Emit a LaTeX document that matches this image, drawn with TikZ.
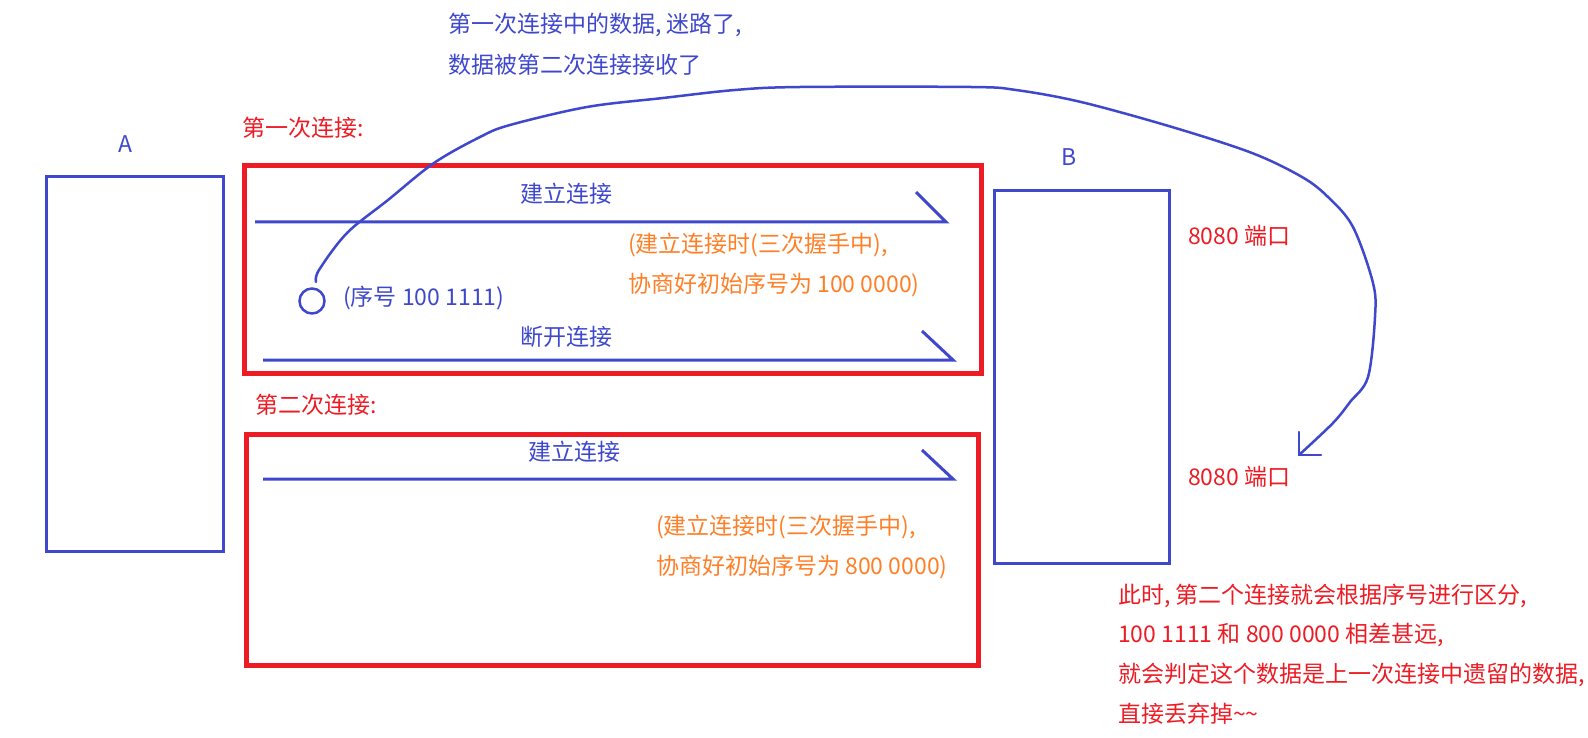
\documentclass[tikz,border=0pt]{standalone}
\usepackage{fontspec}
\newfontfamily\cjk{Noto Sans CJK SC}
\definecolor{pblue}{RGB}{63,72,204}
\definecolor{pred}{RGB}{237,28,36}
\definecolor{porange}{RGB}{255,127,39}
\begin{document}
\begin{tikzpicture}[x=1pt,y=-1pt,
  txt/.style={anchor=west, inner sep=0pt, font=\cjk\fontsize{23}{28}\selectfont},
  bluetxt/.style={txt, text=pblue},
  redtxt/.style={txt, text=pred},
  orangetxt/.style={txt, text=porange},
  hostbox/.style={draw=pblue, line width=3pt, rectangle, inner sep=0pt},
  connbox/.style={draw=pred, line width=5pt, rectangle, inner sep=0pt},
  flow/.style={draw=pblue, line width=3pt, line join=miter},
  curve/.style={draw=pblue, line width=2.5pt, line cap=round, line join=round},
]
\useasboundingbox (0,0) rectangle (1588,738);

% hosts
\node[hostbox, minimum width=176.7pt, minimum height=374.7pt] (A) at (134.9,363.9) {};
\node[hostbox, minimum width=175.5pt, minimum height=373.5pt] (B) at (1081.8,376.8) {};
\node[bluetxt, anchor=center] (Alab) at (125,144) {A};
\node[bluetxt, anchor=center] (Blab) at (1069,157) {B};

% connection boxes
\node[connbox, minimum width=736.8pt, minimum height=208pt] (c1) at (612.9,269.5) {};
\node[connbox, minimum width=731.7pt, minimum height=231.3pt] (c2) at (612.4,550.2) {};
\node[redtxt] (c1lab) at (242,128) {第一次连接:};
\node[redtxt] (c2lab) at (255,405) {第二次连接:};

% flows in first connection
\coordinate (a1s) at (255,222);
\coordinate (a1e) at (946,222);
\coordinate (a1h) at (916,192);
\draw[flow] (a1s) -- (a1e) -- (a1h);
\node[bluetxt] (t1) at (520,194) {建立连接};
\node[orangetxt] (o1a) at (628,245) {(建立连接时(三次握手中),};
\node[orangetxt] (o1b) at (628,285) {协商好初始序号为 100 0000)};

\node[draw=pblue, line width=2.5pt, circle, minimum size=25pt, inner sep=0pt] (dot) at (312,301) {};
\node[bluetxt] (dotlab) at (343,298) {(序号 100 1111)};

\coordinate (a2s) at (263,360);
\coordinate (a2e) at (953,360);
\coordinate (a2h) at (922,331);
\draw[flow] (a2s) -- (a2e) -- (a2h);
\node[bluetxt] (t2) at (520,337) {断开连接};

% flows in second connection
\coordinate (a3s) at (263,479);
\coordinate (a3e) at (953,479);
\coordinate (a3h) at (922,450);
\draw[flow] (a3s) -- (a3e) -- (a3h);
\node[bluetxt] (t3) at (528,452) {建立连接};
\node[orangetxt] (o2a) at (656,527) {(建立连接时(三次握手中),};
\node[orangetxt] (o2b) at (656,567) {协商好初始序号为 800 0000)};

% ports
\node[redtxt] (p1) at (1188,236) {8080 端口};
\node[redtxt] (p2) at (1188,477) {8080 端口};

% lost data curve
\node[bluetxt] (lost1) at (448,25) {第一次连接中的数据, 迷路了,};
\node[bluetxt] (lost2) at (448,65) {数据被第二次连接接收了};
\coordinate (tip) at (1299,455);
\draw[curve] plot[smooth, tension=0.55] coordinates {(316,282) (319,270) (347,233) (388,200) (434,163) (480,137) (510,125) (587,107) (663,98) (735,90) (800,87) (971,87) (1016,90) (1081,102) (1172,127) (1252,153) (1302,177) (1328,197) (1353,227) (1373,283) (1375,317) (1368,377) (1350,402) (1333,423) (1299,455)};
\draw[curve] (1299,432) -- (tip) -- (1321,455);

% conclusion
\node[redtxt] (n1) at (1118,596) {此时, 第二个连接就会根据序号进行区分,};
\node[redtxt] (n2) at (1118,635) {100 1111 和 800 0000 相差甚远,};
\node[redtxt] (n3) at (1118,675) {就会判定这个数据是上一次连接中遗留的数据,};
\node[redtxt] (n4) at (1118,714) {直接丢弃掉\textasciitilde\textasciitilde};
\end{tikzpicture}
\end{document}
